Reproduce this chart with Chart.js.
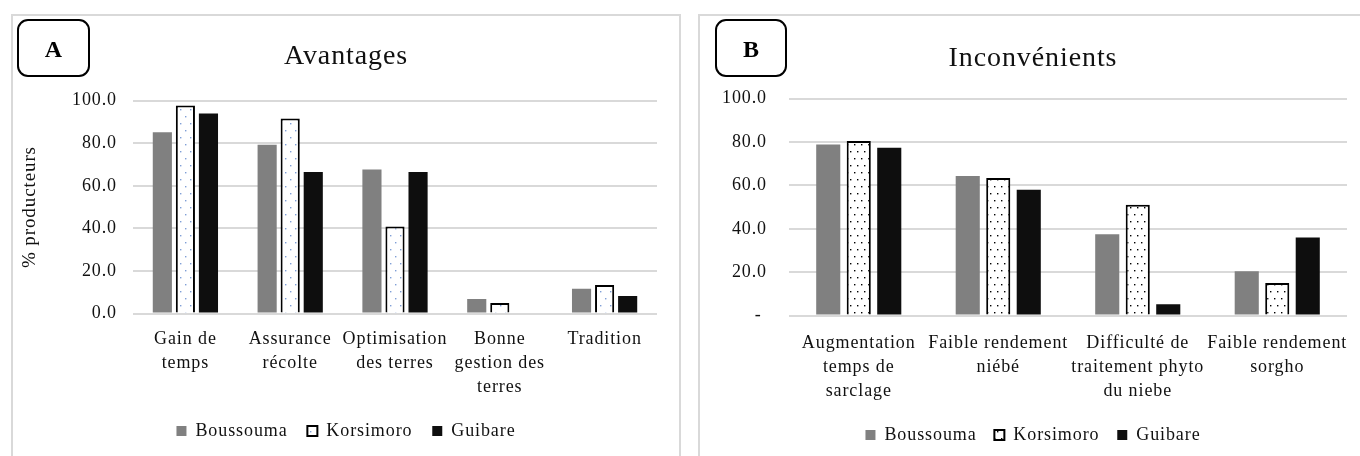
<!DOCTYPE html>
<html>
<head>
<meta charset="utf-8">
<script src="https://cdn.jsdelivr.net/npm/chart.js@4.4.1/dist/chart.umd.min.js"></script>
<style>
    html, body { margin: 0; padding: 0; background: #fff; }
    body { width: 1360px; height: 456px; position: relative; overflow: hidden; font-family: "Liberation Serif", "Times New Roman", serif; }
    .panel { position: absolute; top: 14px; width: 666px; height: 470px; border: 2px solid #d9d9d9; }
    #panelA { left: 11px; }
    #panelB { left: 698px; }
    canvas { position: absolute; top: 15px; }
    #chartA { left: 12px; }
    #chartB { left: 699px; }
    .tag { position: absolute; top: 19px; height: 54px; border: 2px solid #000; border-radius: 11px;
           font-weight: bold; font-size: 24px; text-align: center; line-height: 56px; color: #000; }
    #tagA { left: 17px; width: 69px; }
    #tagB { left: 715px; width: 68px; }
</style>
</head>
<body>
<div class="panel" id="panelA"></div>
<div class="panel" id="panelB"></div>
<canvas id="chartA" width="668" height="441"></canvas>
<canvas id="chartB" width="668" height="441"></canvas>
<div class="tag" id="tagA">A</div>
<div class="tag" id="tagB">B</div>

<script>
// Data (% of producers)
const seriesNames = ['Boussouma', 'Korsimoro', 'Guibare'];

const categoriesA = [
    ['Gain de', 'temps'],
    ['Assurance', 'récolte'],
    ['Optimisation', 'des terres'],
    ['Bonne', 'gestion des', 'terres'],
    ['Tradition']
];
const boussoumaA = [85.1, 79.3, 67.6, 6.8, 11.7];
const korsimoroA = [97.7, 91.6, 40.9, 5.0, 13.4];
const guibareA = [94.0, 66.5, 66.5, 0, 8.3];

const categoriesB = [
    ['Augmentation', 'temps de', 'sarclage'],
    ['Faible rendement', 'niébé'],
    ['Difficulté de', 'traitement phyto', 'du niebe'],
    ['Faible rendement', 'sorgho']
];
const boussoumaB = [78.8, 64.3, 37.5, 20.4];
const korsimoroB = [80.5, 63.4, 51.1, 15.0];
const guibareB = [77.4, 58.0, 5.2, 36.0];

const yTicks = [0, 20, 40, 60, 80, 100];

const FONT = "'Liberation Serif', 'Times New Roman', serif";

// The source text is set a little wider than Liberation Serif
const spacingPlugin = {
    id: 'spacing',
    beforeUpdate(chart) { chart.ctx.letterSpacing = '0.9px'; },
    beforeDraw(chart) { chart.ctx.letterSpacing = '0.9px'; }
};

// Dotted white fill used for Korsimoro
function dotPattern(color, w, h, dots) {
    const c = document.createElement('canvas');
    c.width = w;
    c.height = h;
    const g = c.getContext('2d');
    g.fillStyle = '#ffffff';
    g.fillRect(0, 0, w, h);
    g.fillStyle = color;
    dots.forEach(d => g.fillRect(d[0], d[1], 1.4, 1.4));
    return g.createPattern(c, 'repeat');
}

function makeChart(id, cats, values, cfg) {
    const ctx = document.getElementById(id).getContext('2d');
    const fills = ['#808080', cfg.pattern, '#0e0e0e'];

    const datasets = values.map((vals, i) => ({
        label: seriesNames[i],
        data: vals,
        backgroundColor: fills[i],
        borderColor: i === 1 ? '#000000' : fills[i],
        borderWidth: i === 1 ? 2 : 0,
        categoryPercentage: cfg.catPct,
        barPercentage: cfg.barPct
    }));

    // title and legend are centred on the whole panel, not on the padded area
    const centerPlugin = {
        id: 'centerBlocks',
        afterLayout(chart) {
            const dx = cfg.padRight / 2;
            [chart.titleBlock, chart.legend].forEach(b => {
                if (!b) return;
                b.left += dx;
                b.right += dx;
            });
        }
    };

    return new Chart(ctx, {
        type: 'bar',
        data: { labels: cats, datasets: datasets },
        plugins: [spacingPlugin, centerPlugin],
        options: {
            responsive: false,
            animation: false,
            devicePixelRatio: 1,
            layout: { padding: { left: 0, right: cfg.padRight, top: 0, bottom: cfg.padBottom } },
            plugins: {
                title: {
                    display: true,
                    text: cfg.title,
                    color: '#111',
                    font: { family: FONT, size: 28, weight: 'normal' },
                    padding: { top: cfg.titleTop, bottom: cfg.titleBottom }
                },
                legend: {
                    position: 'bottom',
                    labels: {
                        color: '#111',
                        boxWidth: 10,
                        boxHeight: 10,
                        padding: cfg.legendPad,
                        font: { family: FONT, size: 18 },
                        generateLabels: chart => {
                            const items = Chart.defaults.plugins.legend.labels.generateLabels(chart);
                            items.forEach((it, i) => {
                                if (i < items.length - 1) it.text += '  ';
                            });
                            return items;
                        }
                    }
                },
                tooltip: { enabled: false }
            },
            scales: {
                x: {
                    grid: { display: false, drawTicks: false },
                    border: { display: false },
                    ticks: {
                        color: '#111',
                        padding: cfg.xPad,
                        maxRotation: 0,
                        autoSkip: false,
                        font: { family: FONT, size: 18, lineHeight: 1.36 }
                    }
                },
                y: {
                    min: 0,
                    max: 100,
                    afterBuildTicks: scale => { scale.ticks = yTicks.map(v => ({ value: v })); },
                    afterFit: scale => { scale.width = cfg.yWidth; },
                    grid: { color: '#d9d9d9', lineWidth: 2, drawTicks: false },
                    border: { display: false },
                    title: {
                        display: !!cfg.yTitle,
                        text: cfg.yTitle,
                        color: '#111',
                        padding: { top: 7, bottom: 0 },
                        font: { family: FONT, size: 19 }
                    },
                    ticks: {
                        color: '#111',
                        padding: cfg.yPad,
                        font: { family: FONT, size: 18 },
                        callback: cfg.tickFmt
                    }
                }
            }
        }
    });
}

makeChart('chartA', categoriesA, [boussoumaA, korsimoroA, guibareA], {
    title: 'Avantages',
    yTitle: '% producteurs',
    pattern: dotPattern('#7f9fd6', 10, 14, [[3, 3], [8, 10]]),
    catPct: 0.66,
    barPct: 0.83,
    padRight: 23,
    padBottom: 6,
    legendPad: 9,
    yWidth: 121,
    yPad: 16,
    xPad: 13,
    titleTop: 25,
    titleBottom: 27,
    tickFmt: v => v.toFixed(1)
});

makeChart('chartB', categoriesB, [boussoumaB, korsimoroB, guibareB], {
    title: 'Inconvénients',
    yTitle: '',
    pattern: dotPattern('#000000', 7, 14, [[1, 3], [4, 10]]),
    catPct: 0.656,
    barPct: 0.79,
    padRight: 20,
    padBottom: 2,
    legendPad: 7,
    yWidth: 90,
    yPad: 22,
    xPad: 15,
    titleTop: 27,
    titleBottom: 23,
    // accounting style: zero shows as a dash
    tickFmt: v => (v === 0 ? '- ' : v.toFixed(1))
});
</script>
</body>
</html>
